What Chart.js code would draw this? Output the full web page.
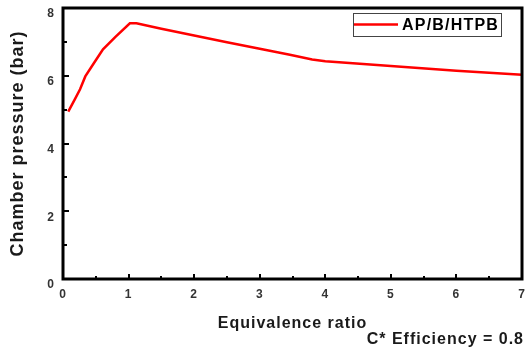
<!DOCTYPE html>
<html>
<head>
<meta charset="utf-8">
<script src="https://cdn.jsdelivr.net/npm/chart.js@4"></script>
<style>
  html, body { margin: 0; padding: 0; background: #fff; }
  #wrap { width: 527px; height: 351px; }
</style>
</head>
<body>
<div id="wrap"><canvas id="chart" width="527" height="351"></canvas></div>
<script>
// values
const seriesLabel = 'AP/B/HTPB';
const ratio = [0.08, 0.18, 0.26, 0.34, 0.47, 0.61, 0.8, 1.02, 1.12, 1.5, 2.0, 2.5, 3.0, 3.46, 3.8, 4.0, 5.0, 6.0, 7.0];
const pressure = [4.94, 5.3, 5.6, 5.98, 6.37, 6.78, 7.15, 7.55, 7.55, 7.39, 7.19, 6.99, 6.8, 6.62, 6.48, 6.43, 6.29, 6.15, 6.03];
const note = 'C* Efficiency = 0.8';

const FAMILY = '"Liberation Sans", Arial, sans-serif';

// frame, inward ticks, boxed legend and note
const decorations = {
  id: 'decorations',
  beforeDraw(chart) {
    // the reference text is slightly spaced out
    chart.ctx.letterSpacing = '1px';
  },
  afterDraw(chart) {
    const { ctx, chartArea: a, scales } = chart;
    ctx.save();

    // inward ticks
    ctx.strokeStyle = '#000';
    ctx.lineWidth = 2;
    ctx.beginPath();
    for (let v = 0.5; v < 7; v += 0.5) {
      const px = Math.round(scales.x.getPixelForValue(v));
      const len = Number.isInteger(v) ? 5 : 3;
      ctx.moveTo(px, a.bottom);
      ctx.lineTo(px, a.bottom - len);
    }
    for (let v = 1; v < 8; v += 1) {
      const py = Math.round(scales.y.getPixelForValue(v));
      const len = v % 2 === 0 ? 6 : 4;
      ctx.moveTo(a.left, py);
      ctx.lineTo(a.left + len, py);
    }
    ctx.stroke();

    // frame
    ctx.lineWidth = 3;
    ctx.strokeRect(a.left, a.top, a.right - a.left, a.bottom - a.top);

    // legend box
    const lx = 353, ly = 13, lw = 148, lh = 23;
    ctx.lineWidth = 1;
    ctx.strokeStyle = '#444';
    ctx.strokeRect(lx + 0.5, ly + 0.5, lw, lh);
    ctx.strokeStyle = '#ff0000';
    ctx.lineWidth = 2.5;
    ctx.beginPath();
    ctx.moveTo(lx + 1, ly + 11.5);
    ctx.lineTo(lx + 45, ly + 11.5);
    ctx.stroke();
    ctx.letterSpacing = '1.2px';
    ctx.fillStyle = '#000';
    ctx.font = `bold 16px ${FAMILY}`;
    ctx.textBaseline = 'middle';
    ctx.textAlign = 'left';
    ctx.fillText(chart.data.datasets[0].label, lx + 49, ly + 12.5);

    // note
    ctx.letterSpacing = '1px';
    ctx.fillStyle = '#1a1a1a';
    ctx.font = `bold 16px ${FAMILY}`;
    ctx.textAlign = 'right';
    ctx.fillText(note, 524, 340);
    ctx.restore();
  }
};

new Chart(document.getElementById('chart'), {
  type: 'line',
  data: {
    datasets: [{
      label: seriesLabel,
      data: ratio.map((r, i) => ({ x: r, y: pressure[i] })),
      borderColor: '#ff0000',
      borderWidth: 2.5,
      pointRadius: 0,
      tension: 0,
      fill: false
    }]
  },
  options: {
    responsive: false,
    animation: false,
    layout: { padding: { top: 8, right: 5, left: 0, bottom: 0 } },
    plugins: {
      legend: { display: false },
      tooltip: { enabled: false }
    },
    scales: {
      x: {
        type: 'linear',
        min: 0,
        max: 7,
        afterFit(s) {
          s.height = 72;
          s.paddingLeft = 0;
          s.paddingRight = 0;
        },
        grid: { display: false, drawTicks: false },
        border: { display: false },
        ticks: {
          stepSize: 1,
          padding: 8,
          color: '#333',
          font: { family: FAMILY, size: 12, weight: 'bold' }
        },
        title: {
          display: true,
          text: 'Equivalence ratio',
          color: '#1a1a1a',
          padding: { top: 0, bottom: 18 },
          font: { family: FAMILY, size: 16, weight: 'bold' }
        }
      },
      y: {
        min: 0,
        max: 8,
        afterFit(s) {
          s.width = 63;
          s.paddingTop = 0;
          s.paddingBottom = 0;
        },
        grid: { display: false, drawTicks: false },
        border: { display: false },
        ticks: {
          stepSize: 2,
          padding: 8,
          labelOffset: 6,
          color: '#333',
          font: { family: FAMILY, size: 12, weight: 'bold' }
        },
        title: {
          display: true,
          text: 'Chamber pressure (bar)',
          color: '#1a1a1a',
          padding: { top: 7, bottom: 0 },
          font: { family: FAMILY, size: 18, weight: 'bold' }
        }
      }
    }
  },
  plugins: [decorations]
});
</script>
</body>
</html>
